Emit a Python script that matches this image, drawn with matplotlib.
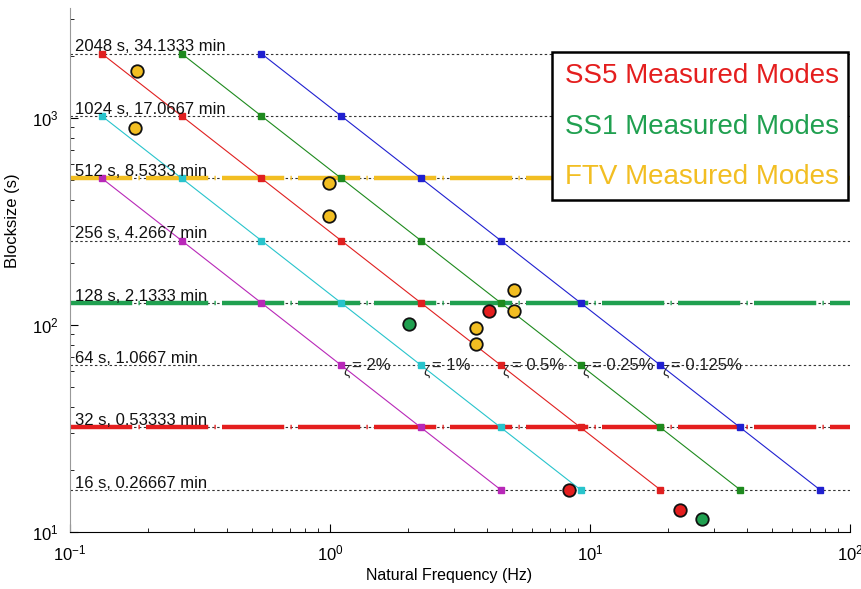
import matplotlib
matplotlib.use('Agg')
import matplotlib.pyplot as plt
from matplotlib.patches import Rectangle
from matplotlib.transforms import blended_transform_factory, offset_copy

plt.rcParams['font.family'] = ['Liberation Sans', 'DejaVu Sans']

# ---------------- data ----------------
blocksizes = [2048, 1024, 512, 256, 128, 64, 32, 16]
block_labels = ["2048 s, 34.1333 min", "1024 s, 17.0667 min", "512 s, 8.5333 min",
                "256 s, 4.2667 min", "128 s, 2.1333 min", "64 s, 1.0667 min",
                "32 s, 0.53333 min", "16 s, 0.26667 min"]

# damping lines: frequency (Hz) and blocksize (s) of each marked point
zeta2_f = [0.1324, 0.2685, 0.5441, 1.103, 2.236, 4.535]
zeta2_B = [512, 256, 128, 64, 32, 16]
zeta1_f = [0.1324, 0.2685, 0.5441, 1.103, 2.236, 4.535, 9.194]
zeta1_B = [1024, 512, 256, 128, 64, 32, 16]
zeta05_f = [0.1324, 0.2685, 0.5441, 1.103, 2.236, 4.535, 9.194, 18.64]
zeta05_B = [2048, 1024, 512, 256, 128, 64, 32, 16]
zeta025_f = [0.2685, 0.5441, 1.103, 2.236, 4.535, 9.194, 18.64, 37.78]
zeta025_B = [2048, 1024, 512, 256, 128, 64, 32, 16]
zeta0125_f = [0.5441, 1.103, 2.236, 4.535, 9.194, 18.64, 37.78, 76.6]
zeta0125_B = [2048, 1024, 512, 256, 128, 64, 32, 16]
zeta_labels = ["= 2%", "= 1%", "= 0.5%", "= 0.25%", "= 0.125%"]

# measured modes
ss5_f = [4.08, 8.32, 22.2]
ss5_B = [117.3, 15.95, 12.77]
ss1_f = [2.02, 27.0]
ss1_B = [101.2, 11.5]
ftv_f = [0.1805, 0.1778, 0.994, 0.995, 5.10, 5.10, 3.64, 3.64]
ftv_B = [1687, 898, 487, 336, 147.6, 116.9, 97.0, 80.9]

# highlighted blocksizes (thick dash-dot lines)
ftv_block = 512
ss1_block = 128
ss5_block = 32

legend_texts = ["SS5 Measured Modes", "SS1 Measured Modes", "FTV Measured Modes"]

# ---------------- colors ----------------
c_mag = '#B828B8'
c_cyan = '#28C4CC'
c_red = '#E02020'
c_grn = '#1E8A1E'
c_blue = '#2020D0'
c_ftv = '#F2BE22'
c_ss1 = '#20A050'
c_ss5 = '#E41E1E'

fig = plt.figure(figsize=(8.62, 5.89), dpi=100)
ax = fig.add_axes([70/862, 1-532/589, 780/862, 524/589])
ax.set_xscale('log')
ax.set_yscale('log')
ax.set_xlim(0.1, 100)
ax.set_ylim(10, 3400)

# horizontal dotted blocksize lines + labels
trans = blended_transform_factory(ax.transAxes, ax.transData)
trans_txt = offset_copy(trans, fig=fig, y=1.5, units='points')
for B, lab in zip(blocksizes, block_labels):
    ax.axhline(B, color='#333333', ls=(0, (2.2, 2.2)), lw=0.8, zorder=1)
    ax.text(0.0064, B, lab, transform=trans_txt, va='baseline', ha='left',
            fontsize=12, color='#111111', zorder=5)

# thick dash-dot lines
dd = (0, (14, 1.4, 0.3, 1.4))
ax.axhline(ftv_block, color=c_ftv, ls=dd, lw=3.2, zorder=2)
ax.axhline(ss1_block, color=c_ss1, ls=dd, lw=3.2, zorder=2)
ax.axhline(ss5_block, color=c_ss5, ls=dd, lw=3.2, zorder=2)

# damping lines
lines = [(zeta2_f, zeta2_B, c_mag), (zeta1_f, zeta1_B, c_cyan),
         (zeta05_f, zeta05_B, c_red), (zeta025_f, zeta025_B, c_grn),
         (zeta0125_f, zeta0125_B, c_blue)]
for (f, B, c), zl in zip(lines, zeta_labels):
    ax.plot(f, B, color=c, lw=0.8, marker='s', ms=4, mec=c, mfc=c, zorder=3)
    i = B.index(64)
    t1 = offset_copy(ax.transData, fig=fig, x=1.5, y=-4.5, units='points')
    ax.text(f[i], B[i], '\u03b6', transform=t1, fontsize=10, va='center',
            ha='left', color='#222222', zorder=5)
    t2 = offset_copy(ax.transData, fig=fig, x=8, y=0, units='points')
    ax.text(f[i], B[i], zl, transform=t2, fontsize=12, va='center',
            ha='left', color='#222222', zorder=5)

# measured modes
ax.plot(ftv_f, ftv_B, ls='none', marker='o', ms=9, mfc=c_ftv, mec='#111111', mew=1.3, zorder=6)
ax.plot(ss5_f, ss5_B, ls='none', marker='o', ms=9, mfc=c_ss5, mec='#111111', mew=1.3, zorder=6)
ax.plot(ss1_f, ss1_B, ls='none', marker='o', ms=9, mfc=c_ss1, mec='#111111', mew=1.3, zorder=6)

# axes styling
ax.spines['top'].set_visible(False)
ax.spines['right'].set_visible(False)
ax.spines['left'].set_color('#999999')
ax.spines['bottom'].set_color('black')
ax.tick_params(which='both', direction='in', top=False, right=False, labelsize=12)
ax.tick_params(which='major', length=6, pad=8)
ax.tick_params(which='minor', length=3)
ax.set_xlabel('Natural Frequency (Hz)', fontsize=11.5)
ax.set_ylabel('Blocksize (s)', fontsize=12)
ax.xaxis.set_label_coords(0.486, -0.068)
ax.yaxis.set_label_coords(-0.064, 0.595)

# legend box
rect = Rectangle((552/862, 1-200/589), (848-552)/862, 148/589, transform=fig.transFigure,
                 facecolor='white', edgecolor='black', lw=1.8, zorder=10)
fig.add_artist(rect)
for txt, col, yy in zip(legend_texts, [c_ss5, c_ss1, c_ftv], [76, 127, 177]):
    fig.text(565/862, 1-yy/589, txt, color=col, fontsize=20, va='center', ha='left', zorder=11)

fig.savefig('out.png', dpi=100)
